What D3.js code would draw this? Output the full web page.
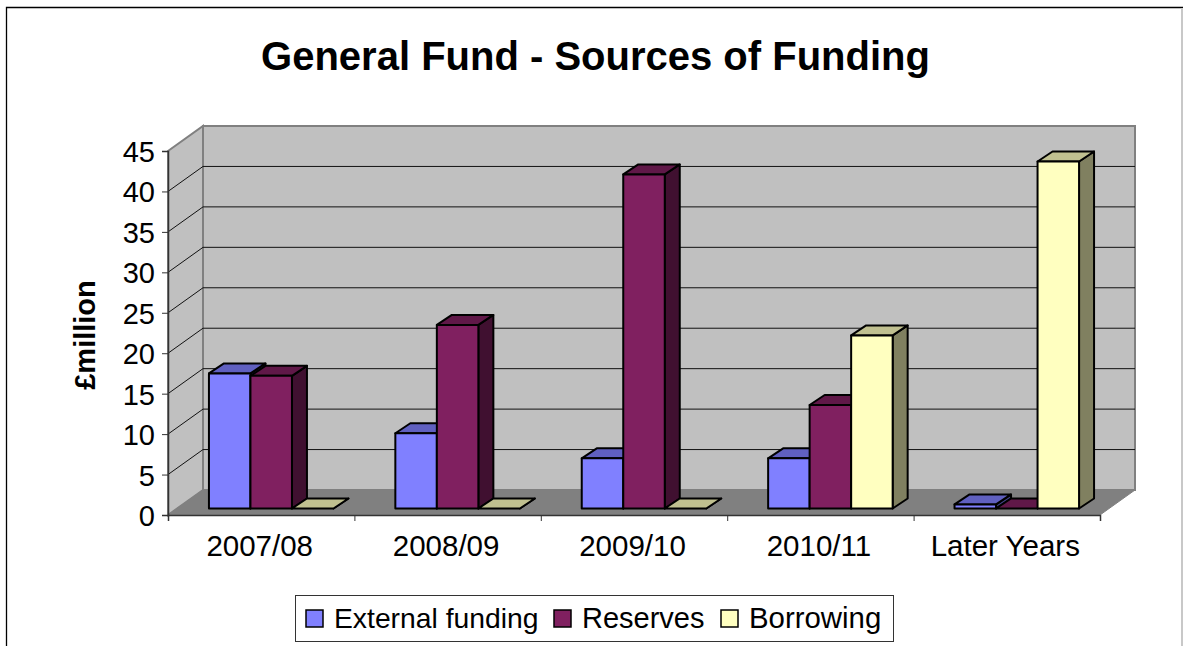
<!DOCTYPE html>
<html>
<head>
<meta charset="utf-8">
<script src="https://cdn.jsdelivr.net/npm/d3@7"></script>
<style>
  html, body { margin: 0; padding: 0; background: #fff; }
  svg { display: block; font-family: "Liberation Sans", Arial, sans-serif; }
</style>
</head>
<body>
<svg></svg>
<script>
var categories = ["2007/08", "2008/09", "2009/10", "2010/11", "Later Years"];
var seriesNames = ["External funding", "Reserves", "Borrowing"];
var externalFunding = [16.7, 9.3, 6.2, 6.2, 0.5];
var reserves = [16.4, 22.7, 41.3, 12.8, 0];
var borrowing = [0, 0, 0, 21.4, 42.9];
var yTicks = [0, 5, 10, 15, 20, 25, 30, 35, 40, 45];

var seriesValues = [externalFunding, reserves, borrowing];
var faceColors = ["#8080ff", "#802060", "#ffffc0"];
var topColors = ["#6060c0", "#601848", "#c0c090"];
var sideColors = ["#404080", "#401030", "#808060"];

var width = 1183;
var height = 646;

var svg = d3.select("svg")
  .attr("width", width)
  .attr("height", height);

// front edge of the plot box and how far the back wall is pushed
var plot = { left: 168, right: 1100, top: 151, bottom: 515 };
var wallDx = 35;
var wallDy = -25;
// bars stand a bit inside the floor and have less depth than it
var barDx = 15;
var barDy = -10;
var barBase = -6.5;
// bar clusters sit right of the category centre, they leave room for the depth
var barShift = 10;

var x = d3.scaleBand()
  .domain(categories)
  .range([plot.left + barShift, plot.right + barShift])
  .paddingInner(0.332)
  .paddingOuter(0.166);

var y = d3.scaleLinear()
  .domain([0, 45])
  .range([plot.bottom, plot.top]);

var xSeries = d3.scaleBand()
  .domain(d3.range(seriesNames.length))
  .range([0, x.bandwidth()]);

function poly(points) {
  return points.map(function(p) { return p.join(","); }).join(" ");
}

// chart frame
svg.append("polyline")
  .attr("points", poly([[6.5, 646], [6.5, 7.5], [1183, 7.5]]))
  .attr("fill", "none")
  .attr("stroke", "#000").attr("stroke-width", 1.3);
svg.append("line")
  .attr("x1", 1182).attr("x2", 1182)
  .attr("y1", 8).attr("y2", 646)
  .attr("stroke", "#c8c8c8").attr("stroke-width", 2);

svg.append("text")
  .attr("x", 595.5).attr("y", 70)
  .attr("text-anchor", "middle")
  .attr("font-size", 40)
  .attr("font-weight", "bold")
  .text("General Fund - Sources of Funding");

// walls and floor
var box = svg.append("g");
box.append("polygon")
  .attr("points", poly([
    [plot.left, plot.top], [plot.left + wallDx, plot.top + wallDy],
    [plot.left + wallDx, plot.bottom + wallDy], [plot.left, plot.bottom]
  ]))
  .attr("fill", "#c0c0c0").attr("stroke", "#808080").attr("stroke-width", 2);
box.append("polygon")
  .attr("points", poly([
    [plot.left + wallDx, plot.top + wallDy], [plot.right + wallDx, plot.top + wallDy],
    [plot.right + wallDx, plot.bottom + wallDy], [plot.left + wallDx, plot.bottom + wallDy]
  ]))
  .attr("fill", "#c0c0c0").attr("stroke", "#808080").attr("stroke-width", 2);
box.append("polygon")
  .attr("points", poly([
    [plot.left, plot.bottom], [plot.left + wallDx, plot.bottom + wallDy],
    [plot.right + wallDx, plot.bottom + wallDy], [plot.right, plot.bottom]
  ]))
  .attr("fill", "#808080").attr("stroke", "#808080");

// gridlines run along the left wall and the back wall
var grid = svg.append("g").selectAll("polyline")
  .data(yTicks.slice(1, -1))
  .enter()
  .append("polyline")
  .attr("points", function(d) {
    return poly([
      [plot.left, y(d)], [plot.left + wallDx, y(d) + wallDy],
      [plot.right + wallDx, y(d) + wallDy]
    ]);
  })
  .attr("fill", "none")
  .attr("stroke", "#111")
  .attr("stroke-width", 1);

// axes
var yAxis = d3.axisLeft(y)
  .tickValues(yTicks)
  .tickSize(6)
  .tickPadding(7);
var yG = svg.append("g")
  .attr("transform", "translate(" + plot.left + ",0)")
  .call(yAxis);

var xEdge = d3.scaleLinear()
  .domain([0, categories.length])
  .range([plot.left, plot.right]);
var xAxis = d3.axisBottom(xEdge)
  .tickValues(d3.range(categories.length + 1))
  .tickSize(6)
  .tickFormat("");
var xG = svg.append("g")
  .attr("transform", "translate(0," + plot.bottom + ")")
  .call(xAxis);

[yG, xG].forEach(function(g) {
  g.selectAll("path").attr("stroke", "#333").attr("stroke-width", 1.5);
  g.selectAll("line").attr("stroke", "#333").attr("stroke-width", 1);
  g.selectAll("text")
    .attr("font-size", 29)
    .attr("font-family", "Liberation Sans")
    .attr("fill", "#000")
    .attr("dy", "0.36em");
});

svg.append("g").selectAll("text")
  .data(categories)
  .enter()
  .append("text")
  .attr("x", function(d, i) { return xEdge(i + 0.5) - 1.5; })
  .attr("y", 556)
  .attr("text-anchor", "middle")
  .attr("font-size", 29.5)
  .text(function(d) { return d; });

svg.append("text")
  .attr("transform", "translate(95,335) rotate(-90)")
  .attr("text-anchor", "middle")
  .attr("font-size", 29)
  .attr("font-weight", "bold")
  .text("£million");

// bars, left to right so that the next bar covers the side of the one before
categories.forEach(function(cat, i) {
  seriesValues.forEach(function(values, s) {
    var v = values[i];
    var x0 = x(cat) + xSeries(s);
    var x1 = x0 + xSeries.bandwidth();
    var yBase = y(0) + barBase;
    var yTop = y(v) + barBase;
    var bar = svg.append("g")
      .attr("stroke", "#000")
      .attr("stroke-width", 2)
      .attr("stroke-linejoin", "round");
    bar.append("polygon")
      .attr("points", poly([[x1, yBase], [x1 + barDx, yBase + barDy], [x1 + barDx, yTop + barDy], [x1, yTop]]))
      .attr("fill", sideColors[s]);
    bar.append("polygon")
      .attr("points", poly([[x0, yTop], [x0 + barDx, yTop + barDy], [x1 + barDx, yTop + barDy], [x1, yTop]]))
      .attr("fill", topColors[s]);
    bar.append("rect")
      .attr("x", x0).attr("y", yTop)
      .attr("width", x1 - x0).attr("height", yBase - yTop)
      .attr("fill", faceColors[s]);
  });
});

// legend
var legend = svg.append("g");
legend.append("rect")
  .attr("x", 295.5).attr("y", 595.5)
  .attr("width", 598).attr("height", 46)
  .attr("fill", "#fff").attr("stroke", "#333").attr("stroke-width", 1);

var legendX = [306, 554, 721];
var legendSize = [28.3, 29, 29.4];
var legendItem = legend.selectAll("g")
  .data(seriesNames)
  .enter()
  .append("g")
  .attr("transform", function(d, i) { return "translate(" + legendX[i] + ",0)"; });
legendItem.append("rect")
  .attr("x", 0).attr("y", 610)
  .attr("width", 17).attr("height", 17)
  .attr("fill", function(d, i) { return faceColors[i]; })
  .attr("stroke", "#000").attr("stroke-width", 1.5);
legendItem.append("text")
  .attr("x", 28).attr("y", 628)
  .attr("font-size", function(d, i) { return legendSize[i]; })
  .text(function(d) { return d; });
</script>
</body>
</html>
